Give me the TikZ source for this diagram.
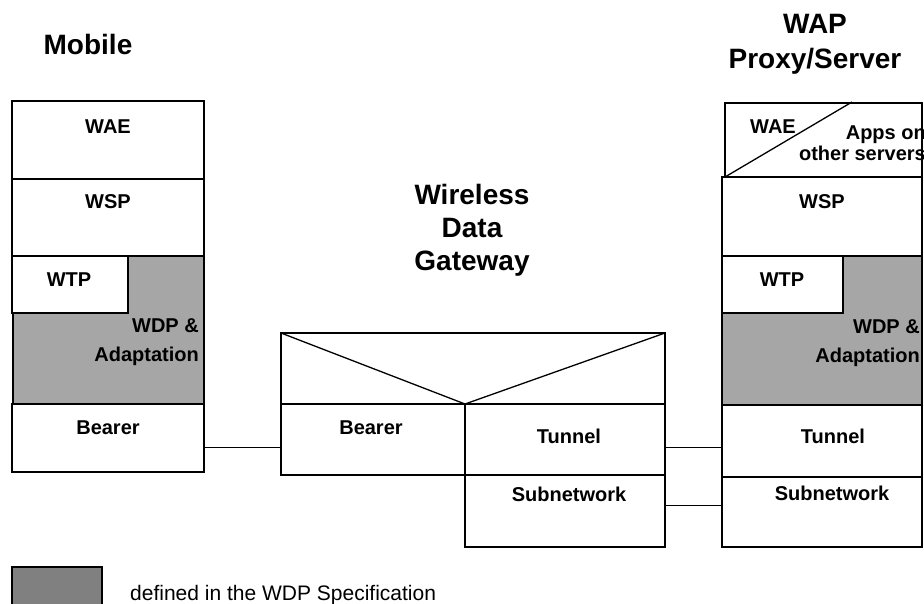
\documentclass[tikz,border=0pt]{standalone}
\usepackage{fontspec}
\setmainfont{Liberation Sans}
\begin{document}
\begin{tikzpicture}[x=1pt,y=-1pt,
  box/.style={draw, line width=1.6pt, fill=white, inner sep=0pt, outer sep=0pt},
  wdpbox/.style={box, fill=wdpgray},
  lbl/.style={font=\fontsize{20}{24}\selectfont\bfseries, inner sep=0pt, anchor=base},
  lblr/.style={lbl, anchor=base east},
  ttl/.style={font=\fontsize{28}{33}\selectfont\bfseries, inner sep=0pt, anchor=base},
  link/.style={line width=1pt},
  vline/.style={line width=1.3pt}]
\definecolor{wdpgray}{RGB}{166,166,166}
\definecolor{leggray}{RGB}{128,128,128}
\path[use as bounding box] (0,0) rectangle (924,603);
\clip (0,0) rectangle (924,603);

% ---- Mobile stack
\node[box, minimum width=192pt, minimum height=78pt] (lwae) at (108,140) {};
\node[box, minimum width=192pt, minimum height=77pt] (lwsp) at (108,217.5) {};
\node[wdpbox, minimum width=191pt, minimum height=148pt] (lwdp) at (108.5,330) {};
\node[box, minimum width=116pt, minimum height=57pt] (lwtp) at (70,284.5) {};
\node[box, minimum width=192pt, minimum height=68pt] (lbear) at (108,438) {};

% ---- Gateway
\node[box, minimum width=384pt, minimum height=71pt] (gtop) at (473,368.5) {};
\node[box, minimum width=184pt, minimum height=71pt] (gbear) at (373,439.5) {};
\node[box, minimum width=200pt, minimum height=71pt] (gtun) at (565,439.5) {};
\node[box, minimum width=200pt, minimum height=72pt] (gsub) at (565,511) {};
\draw[vline] (gtop.north west) -- (gbear.north east) -- (gtop.north east);

% ---- WAP Proxy/Server stack
\node[box, minimum width=197pt, minimum height=74pt] (rwae) at (823.5,140) {};
\coordinate (rdiag) at (852,102);
\draw[vline] (rwae.south west) -- (rdiag);
\node[box, minimum width=200pt, minimum height=79pt] (rwsp) at (822,216.5) {};
\node[wdpbox, minimum width=200pt, minimum height=149pt] (rwdp) at (822,330.5) {};
\node[box, minimum width=121pt, minimum height=57pt] (rwtp) at (782.5,284.5) {};
\node[box, minimum width=200pt, minimum height=72pt] (rtun) at (822,441) {};
\node[box, minimum width=200pt, minimum height=70pt] (rsub) at (822,512) {};

% ---- connectors
\coordinate (yb) at (0,447);
\coordinate (ys) at (0,505);
\draw[link] (lbear.east |- yb) -- (gbear.west |- yb);
\draw[link] (gtun.east |- yb) -- (rtun.west |- yb);
\draw[link] (gsub.east |- ys) -- (rsub.west |- ys);

% ---- labels: mobile
\node[lbl] (t1) at (108,133) {WAE};
\node[lbl] (t2) at (108,208) {WSP};
\node[lbl] (t3) at (69,286) {WTP};
\node[lblr] (t4) at (199,332) {WDP \&};
\node[lblr] (t5) at (199,361) {Adaptation};
\node[lbl] (t6) at (108,434) {Bearer};

% ---- labels: gateway
\node[lbl] (t7) at (371,434) {Bearer};
\node[lbl] (t8) at (569,443) {Tunnel};
\node[lbl] (t9) at (569,501) {Subnetwork};

% ---- labels: server
\node[lbl] (t10) at (773,133) {WAE};
\node[lblr] (t11) at (926,139) {Apps on};
\node[lblr] (t12) at (926,160) {other servers};
\node[lbl] (t13) at (822,208) {WSP};
\node[lbl] (t14) at (782,286) {WTP};
\node[lblr] (t15) at (920,333) {WDP \&};
\node[lblr] (t16) at (920,362) {Adaptation};
\node[lbl] (t17) at (833,443) {Tunnel};
\node[lbl] (t18) at (832,500) {Subnetwork};

% ---- titles
\node[ttl] (m) at (88,54) {Mobile};
\node[ttl] (w1) at (815,33) {WAP};
\node[ttl] (w2) at (815,68) {Proxy/Server};
\node[ttl] (g1) at (472,204) {Wireless};
\node[ttl] (g2) at (472,237) {Data};
\node[ttl] (g3) at (472,270) {Gateway};

% ---- legend
\node[draw, line width=1.6pt, fill=leggray, inner sep=0pt, minimum width=90pt, minimum height=46pt] (leg) at (57,590) {};
\node[font=\fontsize{21}{25}\selectfont, inner sep=0pt, anchor=base west] (legt) at (130,600) {defined in the WDP Specification};
\end{tikzpicture}
\end{document}
